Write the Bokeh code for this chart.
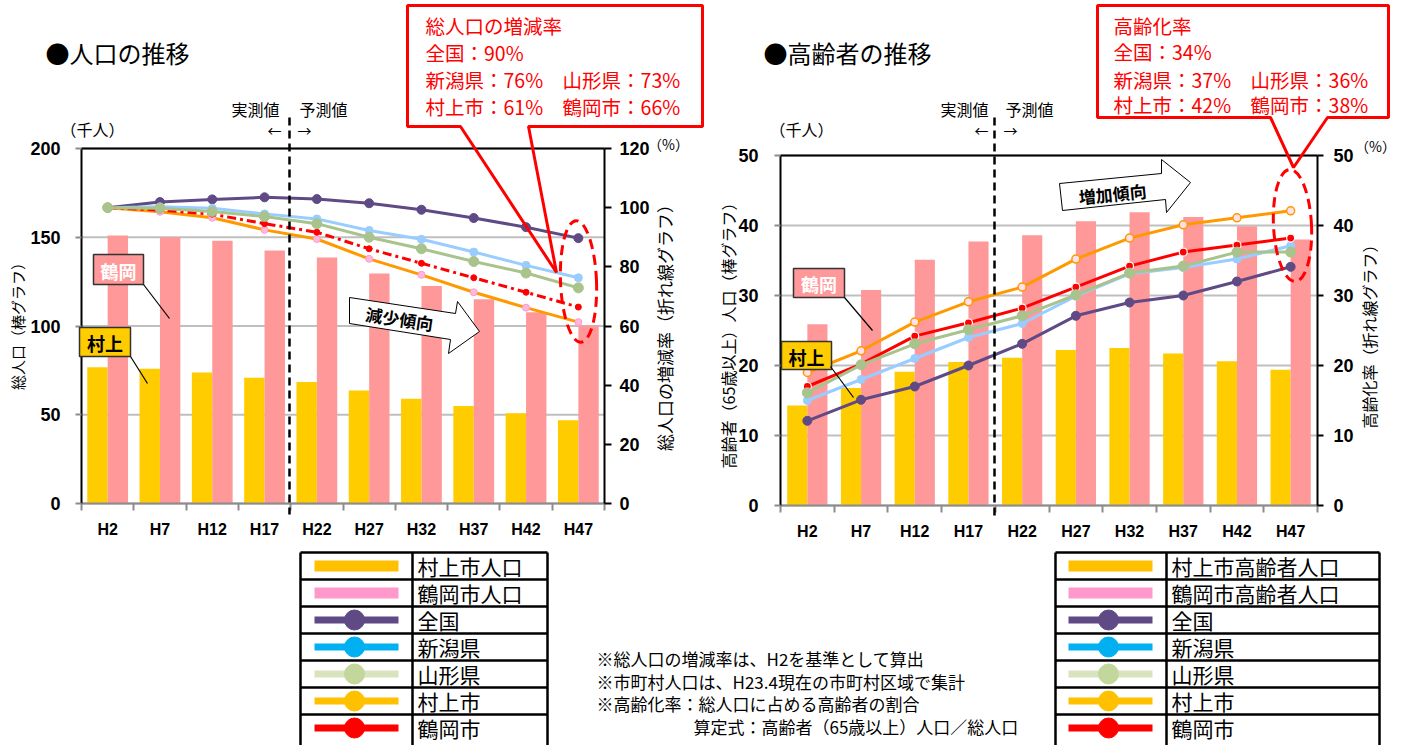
import numpy as np
from bokeh.plotting import figure
from bokeh.models import (Range1d, LinearAxis, FixedTicker, Label, BoxAnnotation,
                          PolyAnnotation, Arrow)
from bokeh.embed import file_html
from bokeh.resources import INLINE

# ---------------- data ----------------
categories = ["H2", "H7", "H12", "H17", "H22", "H27", "H32", "H37", "H42", "H47"]

# 人口の推移（千人）
pop_murakami = [76.8, 75.9, 73.8, 70.8, 68.5, 63.7, 59.0, 55.0, 50.9, 46.9]
pop_tsuruoka = [151.0, 150.0, 148.0, 142.5, 138.6, 129.6, 122.6, 115.1, 107.8, 100.3]
# 総人口の増減率（%）
rate_national = [100.0, 101.9, 102.8, 103.5, 102.9, 101.5, 99.3, 96.5, 93.4, 89.7]
rate_niigata = [100.0, 100.3, 99.8, 97.9, 96.2, 92.3, 89.3, 85.0, 80.5, 76.3]
rate_yamagata = [100.0, 99.8, 98.7, 97.0, 94.6, 90.0, 86.1, 81.8, 77.9, 72.9]
rate_murakami = [100.0, 98.6, 96.6, 92.5, 89.4, 82.7, 77.3, 71.4, 66.2, 61.3]
rate_tsuruoka = [100.0, 99.2, 97.8, 94.6, 91.7, 86.1, 81.2, 76.3, 71.4, 66.4]

# 高齢者の推移（千人）
eld_murakami = [14.3, 16.8, 19.1, 20.5, 21.1, 22.2, 22.5, 21.7, 20.6, 19.4]
eld_tsuruoka = [25.9, 30.8, 35.1, 37.7, 38.6, 40.6, 41.9, 41.2, 39.9, 38.0]
# 高齢化率（%）
aging_national = [12.1, 15.1, 17.0, 20.0, 23.1, 27.1, 29.0, 30.0, 32.0, 34.1]
aging_niigata = [15.0, 18.0, 21.0, 24.0, 26.0, 29.9, 33.1, 34.0, 35.2, 37.1]
aging_yamagata = [16.1, 20.1, 23.1, 25.1, 27.1, 30.1, 33.2, 34.2, 36.2, 36.2]
aging_murakami = [19.0, 22.1, 26.2, 29.1, 31.2, 35.2, 38.2, 40.1, 41.1, 42.1]
aging_tsuruoka = [17.0, 20.2, 24.2, 26.1, 28.2, 31.2, 34.2, 36.2, 37.2, 38.2]

left_ticks = [0, 50, 100, 150, 200]
left_ticks2 = [0, 20, 40, 60, 80, 100, 120]
right_ticks = [0, 10, 20, 30, 40, 50]
right_ticks2 = [0, 10, 20, 30, 40, 50]

callout_left = ["総人口の増減率", "全国：90%", "新潟県：76%　山形県：73%", "村上市：61%　鶴岡市：66%"]
callout_right = ["高齢化率", "全国：34%", "新潟県：37%　山形県：36%", "村上市：42%　鶴岡市：38%"]

legend_left_labels = ["村上市人口", "鶴岡市人口", "全国", "新潟県", "山形県", "村上市", "鶴岡市"]
legend_right_labels = ["村上市高齢者人口", "鶴岡市高齢者人口", "全国", "新潟県", "山形県", "村上市", "鶴岡市"]
notes = ["※総人口の増減率は、H2を基準として算出",
         "※市町村人口は、H23.4現在の市町村区域で集計",
         "※高齢化率：総人口に占める高齢者の割合",
         "算定式：高齢者（65歳以上）人口／総人口"]

# ---------------- styles ----------------
JP = "Noto Sans CJK JP"
NUM = "Liberation Sans"
C_MURA_BAR = "#FFCC00"
C_TSURU_BAR = "#FF9999"
C_NAT = "#5F4A85"
C_NII = "#99CCFF"
C_YAMA = "#A8C38C"
C_MURA = "#FF9900"
C_TSURU = "#FF0000"

N = len(categories)
idx = np.arange(N) + 0.5

# one canvas for the whole page; main ranges are page pixels (y downwards)
OX, OY, CW, CH = 0, 0, 1404, 745
p = figure(width=CW, height=CH, x_range=Range1d(OX, OX + CW), y_range=Range1d(OY + CH, OY),
           x_axis_type=None, y_axis_type=None, toolbar_location=None,
           output_backend="svg", title=None, min_border=0)
p.outline_line_color = None
p.background_fill_color = "white"
p.border_fill_color = "white"

# plot-area frames (left, top, right, bottom) on the page
frameL = (81, 148, 604, 503)
frameR = (780, 155, 1317, 505)

xr, yr = {}, {}


def chart_ranges(key, frame, ymax, y2max):
    fx0, fy0, fx1, fy1 = frame
    sx = (fx1 - fx0) / N
    xr["x" + key] = Range1d((OX - fx0) / sx, (OX + CW - fx0) / sx)
    sy = (fy1 - fy0) / ymax
    yr["y" + key] = Range1d((fy1 - (OY + CH)) / sy, (fy1 - OY) / sy)
    sy2 = (fy1 - fy0) / y2max
    yr["p" + key] = Range1d((fy1 - (OY + CH)) / sy2, (fy1 - OY) / sy2)


chart_ranges("L", frameL, 200, 120)
chart_ranges("R", frameR, 50, 50)
p.extra_x_ranges = xr
p.extra_y_ranges = yr


def style_num(ax, size):
    ax.major_label_text_font = NUM
    ax.major_label_text_font_size = size
    ax.major_label_text_font_style = "bold"
    ax.major_label_text_color = "black"


def chart_axes(key, ymax, y2max, yticks, y2ticks, lstand, rstand, rtick):
    xn, yn, pn = "x" + key, "y" + key, "p" + key
    # category axis
    xa = LinearAxis(x_range_name=xn, y_range_name=yn, fixed_location=0, bounds=(0, N),
                    ticker=FixedTicker(ticks=[float(v) for v in idx],
                                       minor_ticks=list(range(N + 1))))
    xa.major_label_overrides = {float(v): c for v, c in zip(idx, categories)}
    xa.axis_line_color = "#8C8C8C"
    xa.axis_line_width = 2
    xa.major_tick_line_color = None
    xa.major_tick_out = 0
    xa.major_tick_in = 0
    xa.minor_tick_line_color = "#8C8C8C"
    xa.minor_tick_line_width = 2
    xa.minor_tick_out = 7
    xa.minor_tick_in = 0
    xa.major_label_standoff = 10
    style_num(xa, "16px")
    # grid lines + top border (drawn under the data)
    p.segment(x0=[0] * len(yticks), x1=[N] * len(yticks), y0=yticks, y1=yticks,
              x_range_name=xn, y_range_name=yn, line_color="#BFBFBF", line_width=2)
    p.segment(x0=[0], x1=[N], y0=[ymax], y1=[ymax], x_range_name=xn, y_range_name=yn,
              line_color="black", line_width=2)
    # left axis
    ya = LinearAxis(x_range_name=xn, y_range_name=yn, fixed_location=0, bounds=(0, ymax),
                    ticker=FixedTicker(ticks=yticks))
    ya.axis_line_color = "black"
    ya.axis_line_width = 2
    ya.major_tick_line_color = "#8C8C8C"
    ya.major_tick_line_width = 2
    ya.major_tick_out = 6
    ya.major_tick_in = 0
    ya.minor_tick_line_color = None
    ya.major_label_standoff = lstand
    style_num(ya, "18px")
    # right axis
    y2 = LinearAxis(x_range_name=xn, y_range_name=pn, fixed_location=N, bounds=(0, y2max),
                    ticker=FixedTicker(ticks=y2ticks))
    y2.axis_line_color = "black"
    y2.axis_line_width = 2
    y2.major_tick_line_color = "black"
    y2.major_tick_line_width = 2
    y2.major_tick_out = rtick
    y2.major_tick_in = 0
    y2.minor_tick_line_color = None
    y2.major_label_standoff = rstand
    style_num(y2, "18px")
    p.add_layout(xa, "below")
    p.add_layout(ya, "left")
    p.add_layout(y2, "right")


def bars(key, left_vals, right_vals, w):
    p.vbar(x=idx - w / 2, top=left_vals, width=w, fill_color=C_MURA_BAR, line_color=None,
           x_range_name="x" + key, y_range_name="y" + key)
    p.vbar(x=idx + w / 2, top=right_vals, width=w, fill_color=C_TSURU_BAR, line_color=None,
           x_range_name="x" + key, y_range_name="y" + key)


def series(key, vals, color, lw, msize, mfill, mline, dash="solid", mlw=1.0):
    p.line(idx, vals, line_color=color, line_width=lw, line_dash=dash,
           x_range_name="x" + key, y_range_name="p" + key)
    p.scatter(idx, vals, size=msize, fill_color=mfill, line_color=mline, line_width=mlw,
              x_range_name="x" + key, y_range_name="p" + key)


# ---------- decoration helpers (page pixel coordinates) ----------
def txt(x, y, text, size, color="black", bold=False, align="left", angle=0.0, font=JP):
    p.add_layout(Label(x=x, y=y, text=text, text_font=font, text_font_size=f"{size}px",
                       text_color=color, text_font_style="bold" if bold else "normal",
                       text_align=align, text_baseline="middle", angle=angle))


def seg(p0, p1, color="black", width=1.0, dash="solid"):
    p.add_layout(Arrow(end=None, x_start=p0[0], y_start=p0[1], x_end=p1[0], y_end=p1[1],
                       line_color=color, line_width=width, line_dash=dash))


def poly(pts, fill="white", fill_alpha=1.0, line="black", lw=1.0, line_alpha=1.0):
    p.add_layout(PolyAnnotation(xs=[a for a, b in pts], ys=[b for a, b in pts],
                                fill_color=fill, fill_alpha=fill_alpha,
                                line_color=line, line_width=lw, line_alpha=line_alpha))


def tag(box, text, fill, tcolor, leader):
    l, t, r, b = box
    p.add_layout(BoxAnnotation(left=l, right=r, top=t, bottom=b, fill_color=fill,
                               fill_alpha=1.0, line_color="#333333", line_width=1.5,
                               line_alpha=1.0))
    txt((l + r) / 2, (t + b) / 2 + 1, text, 18, color=tcolor, bold=True, align="center")
    seg(leader[0], leader[1], width=1.2)


def callout(box, gap, tip, lines, tx, tys):
    l, t, r, b = box
    poly([(l, t), (r, t), (r, b), (l, b)], fill="white", line_alpha=0.0)
    poly([(gap[0], b), (l, b), (l, t), (r, t), (r, b), (gap[1], b), tip],
         fill="white", fill_alpha=0.0, line="#FF0000", lw=3)
    for s, ty in zip(lines, tys):
        txt(tx, ty, s, 19.5, color="#FF0000")


# ================= left: 人口の推移 =================
chart_axes("L", 200, 120, left_ticks, left_ticks2, 15, 8, 7)
bars("L", pop_murakami, pop_tsuruoka, 0.39)
series("L", rate_national, C_NAT, 3, 9, C_NAT, C_NAT)
series("L", rate_niigata, C_NII, 3, 8, C_NII, C_NII)
series("L", rate_murakami, C_MURA, 3, 7, "#FFB8DC", "#FF99CC")
series("L", rate_tsuruoka, C_TSURU, 3, 6, C_TSURU, C_TSURU, dash="9 4 3 4")
series("L", rate_yamagata, C_YAMA, 3, 10, C_YAMA, C_YAMA)

p.ellipse(x=[578], y=[281], width=36, height=122, angle=0.04,
          width_units="screen", height_units="screen",
          fill_alpha=0, line_color="#FF0000", line_width=3, line_dash="10 6")

txt(45, 52, "●人口の推移", 24)
txt(255, 108, "実測値", 16, align="center")
txt(323, 108, "予測値", 16, align="center")
txt(274, 129, "←", 14, align="center")
txt(304, 129, "→", 14, align="center")
txt(92, 128, "（千人）", 16, align="center")
txt(668, 143, "（%）", 14, align="center")
txt(17, 322, "総人口（棒グラフ）", 15, align="center", angle=np.pi / 2)
txt(664, 323, "総人口の増減率（折れ線グラフ）", 17, align="center", angle=np.pi / 2)
seg((289, 117), (289, 514), width=2.5, dash="8 5")

tag((93, 254, 143, 284), "鶴岡", C_TSURU_BAR, "white", ((143, 284), (169, 318)))
tag((79, 327, 130, 356), "村上", C_MURA_BAR, "black", ((130, 356), (147, 383)))

poly([(349, 297), (455, 313), (457, 301), (479, 331), (448, 353), (450, 339), (349, 323)],
     fill="white", line="black", lw=1)
txt(399, 318, "減少傾向", 17, bold=True, align="center", angle=-0.15)

callout((407, 5, 702, 126), (460, 528), (556, 272), callout_left, 425, [25, 52, 79, 106])

# ================= right: 高齢者の推移 =================
chart_axes("R", 50, 50, right_ticks, right_ticks2, 16, 10, 6)
bars("R", eld_murakami, eld_tsuruoka, 0.375)
series("R", aging_national, C_NAT, 3, 9, C_NAT, C_NAT)
series("R", aging_niigata, C_NII, 3, 8, C_NII, C_NII)
series("R", aging_murakami, C_MURA, 3, 8, "#FFE0EC", C_MURA, mlw=1.5)
series("R", aging_tsuruoka, C_TSURU, 3, 8, C_TSURU, "white", mlw=1.2)
series("R", aging_yamagata, C_YAMA, 3, 10, C_YAMA, C_YAMA)

p.ellipse(x=[1292], y=[225], width=38, height=112, angle=0.05,
          width_units="screen", height_units="screen",
          fill_alpha=0, line_color="#FF0000", line_width=3, line_dash="10 6")

txt(763, 52, "●高齢者の推移", 24)
txt(964, 108, "実測値", 16, align="center")
txt(1029, 108, "予測値", 16, align="center")
txt(981, 129, "←", 14, align="center")
txt(1010, 129, "→", 14, align="center")
txt(801, 128, "（千人）", 16, align="center")
txt(1375, 145, "（%）", 14, align="center")
txt(727, 331, "高齢者（65歳以上）人口（棒グラフ）", 16, align="center", angle=np.pi / 2)
txt(1368, 332, "高齢化率（折れ線グラフ）", 16, align="center", angle=np.pi / 2)
seg((994, 117), (994, 516), width=2.5, dash="8 5")

tag((793, 268, 844, 297), "鶴岡", C_TSURU_BAR, "white", ((844, 297), (872, 330)))
tag((781, 341, 831, 369), "村上", C_MURA_BAR, "black", ((830, 366), (853, 397)))

poly([(1059, 183), (1161, 173), (1161, 159), (1190, 182), (1166, 212), (1165, 199),
      (1062, 210)], fill="white", line="black", lw=1)
txt(1112, 193, "増加傾向", 17, bold=True, align="center", angle=0.098)

callout((1097, 5, 1388, 117), (1270, 1327), (1293, 167), callout_right, 1113, [25, 51, 79, 104])

# ================= legends & notes =================
row_h = 27.0
row_top = 552.0
legend_styles = [
    ("bar", "#FFC000", "#FFC000"),
    ("bar", "#FF99CC", "#FF99CC"),
    ("line", C_NAT, C_NAT),
    ("line", "#00B0F0", "#00B0F0"),
    ("line", "#D7E4BD", "#C3D69B"),
    ("line", "#FFC000", "#FFC000"),
    ("line", "#FF0000", "#FF0000"),
]


def legend_table(x0, xdiv, x1, sw0, sw1, mx, tx, labels):
    n = len(labels)
    ys = [row_top + row_h * i for i in range(n)]
    p.segment(x0=[x0] * len(ys), x1=[x1] * len(ys), y0=ys, y1=ys,
              line_color="black", line_width=2.5)
    p.segment(x0=[x0, xdiv, x1], x1=[x0, xdiv, x1], y0=[row_top] * 3, y1=[OY + CH + 10] * 3,
              line_color="black", line_width=2.5)
    for i, (lab, (kind, lc, mc)) in enumerate(zip(labels, legend_styles)):
        yc = row_top + row_h * (i + 0.5)
        if kind == "bar":
            p.segment(x0=[sw0], x1=[sw1], y0=[yc], y1=[yc], line_color=lc, line_width=11,
                      line_cap="butt")
        else:
            p.segment(x0=[sw0], x1=[sw1], y0=[yc], y1=[yc], line_color=lc, line_width=7,
                      line_cap="butt")
            p.scatter(x=[mx], y=[yc], size=20, fill_color=mc, line_color=mc)
        txt(tx, yc, lab, 21)


legend_table(300, 412, 547, 314, 398, 354, 417, legend_left_labels)
legend_table(1055, 1166, 1379, 1068, 1152, 1108, 1171, legend_right_labels)

note_pos = [(596, 658), (596, 681), (596, 703), (693, 726)]
for s, (nx, ny) in zip(notes, note_pos):
    txt(nx, ny, s, 17)

open("out.html", "w").write(file_html(p, INLINE))
